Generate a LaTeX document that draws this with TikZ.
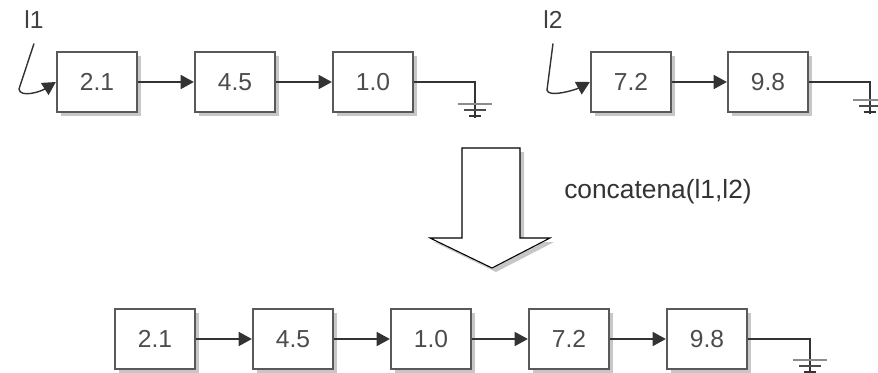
\documentclass[tikz,border=0pt]{standalone}
\usepackage{fontspec}
\setmainfont{Liberation Sans}
\usetikzlibrary{arrows.meta}
\tikzset{
	caja/.style={draw=black!65, line width=1.3pt, fill=white, text=black!70,
		minimum width=1.6cm, minimum height=1.2cm, inner sep=0pt,
		font=\fontsize{14}{16}\selectfont,
		preaction={fill=black!22, transform canvas={shift={(2.4pt,-2.4pt)}}}},
	flecha/.style={line width=0.8pt, black!80, -{Triangle[length=7.5pt,width=8pt]}},
	etiq/.style={font=\fontsize{14}{16}\selectfont, text=black!75, inner sep=1pt},
	tierra/.pic={
		\draw[line width=0.8pt, black!80] (0,0) -- (0,14);
		\draw[line width=1.4pt, black!45] (-17,0) -- (17,0);
		\draw[line width=1.1pt, black!70] (-11,6) -- (11,6);
		\draw[line width=1.1pt, black!80] (-6,12) -- (6,12);
	}
}
\begin{document}
\begin{tikzpicture}[x=0.02cm, y=-0.02cm]
			\useasboundingbox (0,0) rectangle (878,372);
			% lista l1
			\node[etiq] (l1) at (34,20) {l1};
			\node[caja] (a1) at (97,82) {2.1};
			\node[caja] (a2) at (235,82) {4.5};
			\node[caja] (a3) at (373,82) {1.0};
			\draw[flecha] (a1) -- (a2);
			\draw[flecha] (a2) -- (a3);
			\draw[flecha] ([yshift=-2.5mm]l1.south) -- (19,89) .. controls (20,98) and (40,92) .. (a1.west);
			\coordinate (t1) at (475,104);
			\draw[line width=0.8pt, black!80] (a3.east) -| (t1);
			\pic at (t1) {tierra};
			% lista l2
			\node[etiq] (l2) at (553,20) {l2};
			\node[caja] (b1) at (631,82) {7.2};
			\node[caja] (b2) at (768,82) {9.8};
			\draw[flecha] (b1) -- (b2);
			\draw[flecha] ([yshift=-2.5mm]l2.south) -- (547,90) .. controls (548,98) and (575,90) .. (b1.west);
			\coordinate (t2) at (870,100);
			\draw[line width=0.8pt, black!80] (b2.east) -| (t2);
			\pic at (t2) {tierra};
			% concatena
			\fill[black!22] (466,152) -- (524,152) -- (524,242) -- (554,242) -- (496,272) -- (434,242) -- (466,242) -- cycle;
			\draw[line width=0.6pt, fill=white]
				(462,148) -- (520,148) -- (520,238) -- (550,238) -- (492,268) -- (430,238) -- (462,238) -- cycle;
			\node[etiq, text=black!80, font=\fontsize{15}{17}\selectfont] (op) at (658,192) {concatena(l1,l2)};
			% lista resultado
			\foreach \v [count=\i] in {2.1,4.5,1.0,7.2,9.8}{
				\node[caja] (c\i) at (155+138*\i-138,339) {\v};
			}
			\foreach \i [count=\j from 2] in {1,...,4}{
				\draw[flecha] (c\i) -- (c\j);
			}
			\coordinate (t3) at (810,360);
			\draw[line width=0.8pt, black!80] (c5.east) -| (t3);
			\pic at (t3) {tierra};
		\end{tikzpicture}
\end{document}
